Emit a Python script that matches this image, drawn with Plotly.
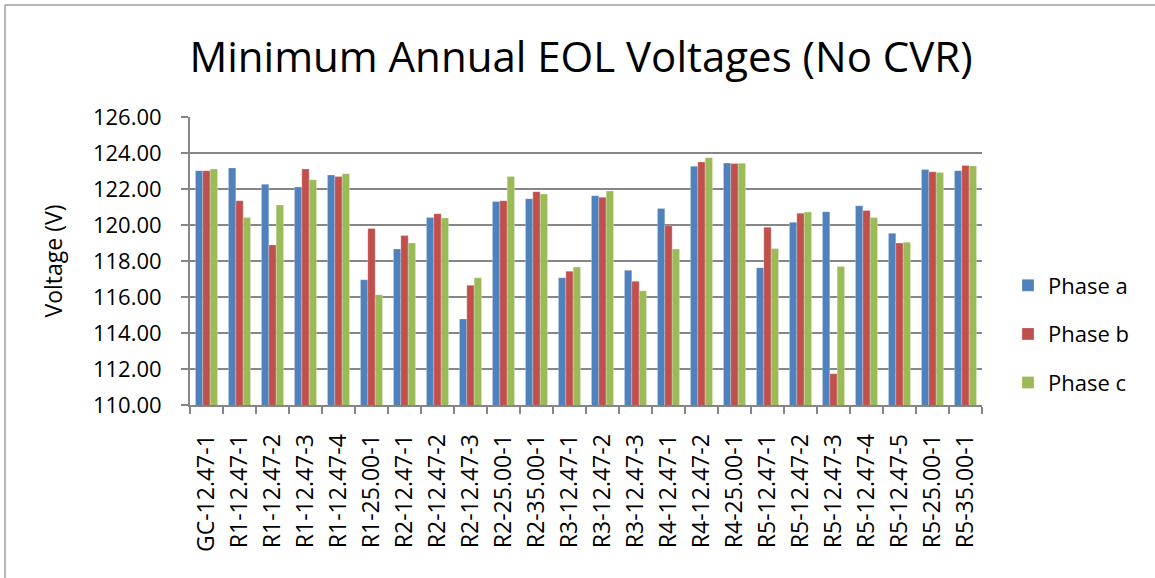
import plotly.graph_objects as go

categories = ["GC-12.47-1", "R1-12.47-1", "R1-12.47-2", "R1-12.47-3", "R1-12.47-4",
              "R1-25.00-1", "R2-12.47-1", "R2-12.47-2", "R2-12.47-3", "R2-25.00-1",
              "R2-35.00-1", "R3-12.47-1", "R3-12.47-2", "R3-12.47-3", "R4-12.47-1",
              "R4-12.47-2", "R4-25.00-1", "R5-12.47-1", "R5-12.47-2", "R5-12.47-3",
              "R5-12.47-4", "R5-12.47-5", "R5-25.00-1", "R5-35.00-1"]

phase_a = [123.02, 123.17, 122.26, 122.11, 122.78, 116.96, 118.67, 120.41, 114.78, 121.30,
           121.46, 117.07, 121.63, 117.48, 120.91, 123.26, 123.44, 117.63, 120.15, 120.74,
           121.07, 119.54, 123.09, 123.02]
phase_b = [123.02, 121.35, 118.89, 123.11, 122.69, 119.81, 119.41, 120.63, 116.65, 121.35,
           121.85, 117.43, 121.54, 116.87, 119.96, 123.50, 123.41, 119.87, 120.65, 111.74,
           120.81, 119.00, 122.96, 123.31]
phase_c = [123.11, 120.41, 121.11, 122.52, 122.85, 116.13, 119.00, 120.39, 117.07, 122.70,
           121.72, 117.67, 121.89, 116.35, 118.67, 123.74, 123.43, 118.69, 120.72, 117.70,
           120.41, 119.04, 122.91, 123.28]

series_names = ["Phase a", "Phase b", "Phase c"]
colors = ["#4F81BD", "#C0504D", "#9BBB59"]

FONT = "Open Sans"
fig = go.Figure()
for name, vals, col in zip(series_names, [phase_a, phase_b, phase_c], colors):
    fig.add_trace(go.Bar(x=categories, y=vals, name=name, legendgroup=name,
                         marker=dict(color=col, line=dict(color="rgba(255,255,255,0.5)", width=0.5))))

L, R, T, B = 190, 982, 117, 405
W, H = 1155, 578
pw, ph = R - L, B - T

def px(x):
    return (x - L) / pw

def py(y):
    return (B - y) / ph

fig.update_layout(
    width=W, height=H,
    margin=dict(l=L, r=W - R, t=T, b=H - B, autoexpand=False),
    paper_bgcolor="white", plot_bgcolor="white",
    barmode="group", bargap=0.33, bargroupgap=0,
    font=dict(family=FONT, color="black"),
    title=dict(text="Minimum Annual EOL Voltages (No CVR)", x=581 / W, xanchor="center",
               y=1 - 57 / H, yanchor="middle", font=dict(family=FONT, size=42, color="black")),
    xaxis=dict(type="category", tickangle=-90, tickfont=dict(family=FONT, size=23),
               showline=True, linecolor="#868686", linewidth=2,
               ticks="outside", tickson="boundaries", ticklen=7, tickcolor="#868686", tickwidth=1.5,
               ticklabelstandoff=18, showgrid=False),
    yaxis=dict(range=[110, 126], dtick=2, tickformat=".2f", tickfont=dict(family=FONT, size=22),
               showline=True, linecolor="#868686", linewidth=2,
               ticks="outside", ticklen=7, tickcolor="#868686", tickwidth=1.5,
               ticklabelstandoff=15,
               showgrid=True, gridcolor="#868686", gridwidth=1.5, zeroline=False,
               title=dict(text="Voltage (V)", font=dict(family=FONT, size=23), standoff=24)),
    legend=dict(x=px(1008), xanchor="left", y=py(334), yanchor="middle",
                font=dict(family=FONT, size=22), tracegroupgap=17, traceorder="grouped",
                itemwidth=30),
    shapes=[
        dict(type="line", xref="paper", yref="paper", x0=px(5), x1=px(5), y0=py(578), y1=py(5),
             line=dict(color="#a0a0a0", width=1.5)),
        dict(type="line", xref="paper", yref="paper", x0=px(5), x1=px(1155), y0=py(5), y1=py(5),
             line=dict(color="#a0a0a0", width=1.5)),
    ],
)

fig.write_html("out.html", post_script="document.body.style.margin='0px';",
               config={"displayModeBar": False})
